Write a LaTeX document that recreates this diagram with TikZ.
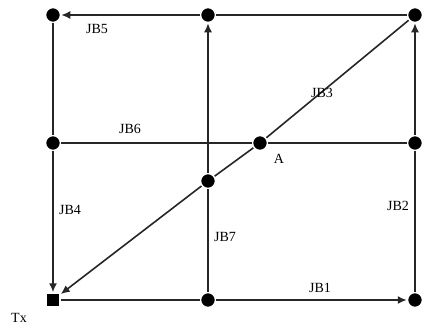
\documentclass[tikz,border=0pt]{standalone}
\usepackage{fontspec}
\setmainfont{Liberation Serif}
\usetikzlibrary{arrows.meta}
\begin{document}
\begin{tikzpicture}[x=1pt,y=-1pt,
  dot/.style={circle,fill=black,draw=white,line width=1.5pt,inner sep=0pt,minimum size=15pt},
  sq/.style={rectangle,fill=black,draw=white,line width=1.5pt,inner sep=0pt,minimum size=14pt},
  ln/.style={draw=black!85,line width=1.6pt},
  ar/.style={ln,-{Latex[length=9pt,width=8pt]}},
  lab/.style={font=\fontsize{14}{14}\selectfont,inner sep=0pt}]
\useasboundingbox (0,0) rectangle (428,327);
\node[dot] (tl) at (53,15) {};
\node[dot] (tm) at (208,15) {};
\node[dot] (tr) at (415,15) {};
\node[dot] (ml) at (53,143) {};
\node[dot] (a) at (260,143) {};
\node[dot] (mr) at (415,143) {};
\node[dot] (c) at (208,181) {};
\node[sq] (tx) at (53,300) {};
\node[dot] (bm) at (208,300) {};
\node[dot] (br) at (415,300) {};
% edges
\draw[ar] (tm) -- (tl);
\draw[ln] (tr) -- (tm);
\draw[ln] (tl) -- (ml);
\draw[ar] (ml) -- (tx);
\draw[ln] (ml) -- (a);
\draw[ln] (a) -- (mr);
\draw[ln] (tr) -- (a);
\draw[ln] (a) -- (c);
\draw[ar] (c) -- (tx);
\draw[ln] (bm) -- (c);
\draw[ar] (c) -- (tm);
\draw[ln] (tx) -- (bm);
\draw[ar] (bm) -- (br);
\draw[ln] (br) -- (mr);
\draw[ar] (mr) -- (tr);
% labels
\node[lab] (l5) at (97,29) {JB5};
\node[lab] (l6) at (130,129) {JB6};
\node[lab] (l3) at (322,93) {JB3};
\node[lab] (la) at (279,159) {A};
\node[lab] (l4) at (70,210) {JB4};
\node[lab] (l2) at (398,206) {JB2};
\node[lab] (l7) at (225,237) {JB7};
\node[lab] (l1) at (320,288) {JB1};
\node[lab] (ltx) at (19,318) {Tx};
\end{tikzpicture}
\end{document}
